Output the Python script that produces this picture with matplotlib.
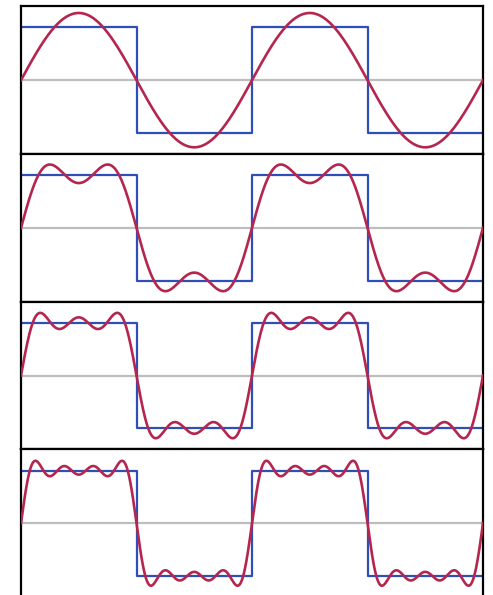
import numpy as np
import matplotlib.pyplot as plt

# odd harmonics used in the partial sums, one more per panel
harmonics = [1, 3, 5, 7]
amplitudes = [4 / (np.pi * k) for k in harmonics]
terms_per_panel = [1, 2, 3, 4]

# square wave corners (two periods)
sq_x = [0, np.pi, np.pi, 2 * np.pi, 2 * np.pi, 3 * np.pi, 3 * np.pi, 4 * np.pi]
sq_y = [1, 1, -1, -1, 1, 1, -1, -1]

blue = '#2e4fb8'
red = '#b5264f'
grey = '#bdbdbd'

fig = plt.figure(figsize=(4.93, 5.95), dpi=100)
W, H = 493, 595
left, right = 21, 483
top0, ph = 6.3, 147.7

x = np.linspace(0, 4 * np.pi, 2000)
for i, n in enumerate(terms_per_panel):
    top = top0 + i * ph
    ax = fig.add_axes([left / W, (H - top - ph) / H, (right - left) / W, ph / H])
    y = np.zeros_like(x)
    for k, a in zip(harmonics[:n], amplitudes[:n]):
        y += a * np.sin(k * x)
    ax.axhline(0, color=grey, lw=1.6, zorder=1)
    ax.plot(sq_x, sq_y, color=blue, lw=1.6, zorder=2)
    ax.plot(x, y, color=red, lw=1.9, zorder=3)
    ax.set_xlim(0, 4 * np.pi)
    ax.set_ylim(-1.4, 1.4)
    ax.set_xticks([])
    ax.set_yticks([])
    for s in ax.spines.values():
        s.set_linewidth(1.6)
        s.set_color('black')

fig.savefig('out.png', dpi=100)
